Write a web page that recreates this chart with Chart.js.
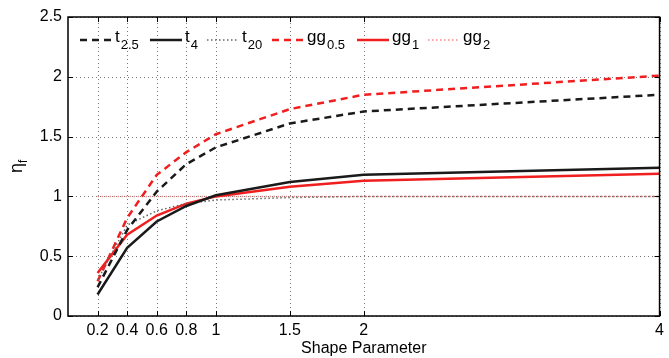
<!DOCTYPE html>
<html>
<head>
<meta charset="utf-8">
<script src="https://cdn.jsdelivr.net/npm/chart.js@4.4.0/dist/chart.umd.min.js"></script>
<style>
  html, body { margin: 0; padding: 0; background: #fff; }
  #wrap { width: 669px; height: 358px; }
</style>
</head>
<body>
<div id="wrap"><canvas id="mainChart" width="669" height="358"></canvas></div>
<script>
// === DATA ===
const shapeParams = [0.2, 0.4, 0.6, 0.8, 1, 1.5, 2, 4];
const xTicks = [0.2, 0.4, 0.6, 0.8, 1, 1.5, 2, 4];
const yTicks = [0, 0.5, 1, 1.5, 2, 2.5];

const t25  = [0.24, 0.72, 1.04, 1.27, 1.41, 1.61, 1.71, 1.85];
const t4   = [0.18, 0.57, 0.79, 0.92, 1.01, 1.12, 1.18, 1.24];
const t20  = [0.30, 0.76, 0.88, 0.94, 0.97, 0.99, 1.00, 1.00];
const gg05 = [0.29, 0.82, 1.18, 1.37, 1.52, 1.73, 1.85, 2.01];
const gg1  = [0.36, 0.68, 0.84, 0.94, 1.00, 1.08, 1.13, 1.19];
const gg2  = [1.00, 1.00, 1.00, 1.00, 1.00, 1.00, 1.00, 1.00];

// legend text: [base, subscript]
const seriesNames = [['t', '2.5'], ['t', '4'], ['t', '20'], ['gg', '0.5'], ['gg', '1'], ['gg', '2']];

const BLACK = '#1a1a1a';
const RED = '#f01e1e';
const FONT = '"Liberation Sans", Arial, sans-serif';

function pts(ys) {
  return shapeParams.map((x, i) => ({ x: x, y: ys[i] }));
}

const styles = [
  { color: BLACK, width: 2.5, dash: [7, 5] },
  { color: BLACK, width: 2.5, dash: [] },
  { color: '#666', width: 1.5, dash: [1.5, 2.5] },
  { color: RED, width: 2.5, dash: [7, 5] },
  { color: RED, width: 2.5, dash: [] },
  { color: '#f58888', width: 1.5, dash: [1.5, 2.5] }
];
const seriesData = [t25, t4, t20, gg05, gg1, gg2];

const datasets = seriesData.map((ys, i) => ({
  label: seriesNames[i].join(''),
  data: pts(ys),
  borderColor: styles[i].color,
  borderWidth: styles[i].width,
  borderDash: styles[i].dash,
  pointRadius: 0,
  tension: 0,
  fill: false
}));

// === PLUGIN: lưới chấm, khung, vạch chia trong, chú thích, nhãn trục y ===
const decorPlugin = {
  id: 'decor',
  beforeDatasetsDraw(chart) {
    const ctx = chart.ctx;
    const a = chart.chartArea;
    const xs = chart.scales.x, ys = chart.scales.y;
    ctx.save();
    ctx.strokeStyle = '#777';
    ctx.lineWidth = 1;
    ctx.setLineDash([1, 3]);
    xTicks.forEach(v => {
      const px = Math.round(xs.getPixelForValue(v)) + 0.5;
      ctx.beginPath();
      ctx.moveTo(px, a.bottom); ctx.lineTo(px, a.top);
      ctx.stroke();
    });
    yTicks.forEach(v => {
      const py = Math.round(ys.getPixelForValue(v)) + 0.5;
      ctx.beginPath();
      ctx.moveTo(a.left, py); ctx.lineTo(a.right, py);
      ctx.stroke();
    });
    ctx.restore();
  },
  afterDraw(chart) {
    const ctx = chart.ctx;
    const a = chart.chartArea;
    const xs = chart.scales.x, ys = chart.scales.y;
    ctx.save();
    // frame
    ctx.strokeStyle = '#000';
    ctx.lineWidth = 1.5;
    ctx.setLineDash([]);
    ctx.strokeRect(a.left, a.top, a.right - a.left, a.bottom - a.top);
    // inner ticks
    ctx.lineWidth = 1;
    const tl = 5;
    xTicks.forEach(v => {
      const px = Math.round(xs.getPixelForValue(v)) + 0.5;
      ctx.beginPath();
      ctx.moveTo(px, a.bottom); ctx.lineTo(px, a.bottom - tl);
      ctx.moveTo(px, a.top); ctx.lineTo(px, a.top + tl);
      ctx.stroke();
    });
    yTicks.forEach(v => {
      const py = Math.round(ys.getPixelForValue(v)) + 0.5;
      ctx.beginPath();
      ctx.moveTo(a.left, py); ctx.lineTo(a.left + tl, py);
      ctx.moveTo(a.right, py); ctx.lineTo(a.right - tl, py);
      ctx.stroke();
    });
    // legend
    const legendX = [80, 150, 207, 272, 357, 428];
    const ly = 40;
    ctx.textBaseline = 'alphabetic';
    ctx.fillStyle = '#000';
    seriesNames.forEach((nm, i) => {
      const s = styles[i];
      const x0 = legendX[i];
      ctx.strokeStyle = s.color;
      ctx.lineWidth = s.width;
      ctx.setLineDash(s.dash);
      ctx.beginPath();
      ctx.moveTo(x0, ly); ctx.lineTo(x0 + 32, ly);
      ctx.stroke();
      ctx.setLineDash([]);
      ctx.font = '17px ' + FONT;
      const tx = x0 + 35;
      ctx.fillText(nm[0], tx, ly + 2);
      const w = ctx.measureText(nm[0]).width;
      ctx.font = '13px ' + FONT;
      ctx.fillText(nm[1], tx + w + 1, ly + 9);
    });
    // y title
    ctx.translate(22, 166);
    ctx.rotate(-Math.PI / 2);
    ctx.font = '18px ' + FONT;
    ctx.textAlign = 'left';
    ctx.fillText('\u03b7', -7, 0);
    ctx.font = '12px ' + FONT;
    ctx.fillText('f', 3, 5);
    ctx.restore();
  }
};

const ctx = document.getElementById('mainChart').getContext('2d');
new Chart(ctx, {
  type: 'line',
  data: { datasets: datasets },
  options: {
    responsive: false,
    animation: false,
    layout: { padding: { top: 17, right: 9, left: 0, bottom: 0 } },
    plugins: { legend: { display: false }, tooltip: { enabled: false } },
    scales: {
      x: {
        type: 'linear',
        min: 0, max: 4,
        afterBuildTicks(scale) { scale.ticks = xTicks.map(v => ({ value: v })); },
        afterFit(scale) { scale.height = 42; },
        ticks: {
          color: '#000', font: { size: 16, family: FONT }, padding: 5,
          maxRotation: 0, autoSkip: false,
          callback: v => String(v)
        },
        grid: { display: false, drawTicks: false },
        border: { display: false },
        title: { display: true, text: 'Shape Parameter', color: '#000', font: { size: 16, family: FONT }, padding: { top: 0, bottom: 0 } }
      },
      y: {
        min: 0, max: 2.5,
        afterBuildTicks(scale) { scale.ticks = yTicks.map(v => ({ value: v })); },
        afterFit(scale) { scale.width = 68; },
        ticks: {
          color: '#000', font: { size: 16, family: FONT }, padding: 6,
          callback: v => String(v)
        },
        grid: { display: false, drawTicks: false },
        border: { display: false }
      }
    }
  },
  plugins: [decorPlugin]
});
</script>
</body>
</html>
